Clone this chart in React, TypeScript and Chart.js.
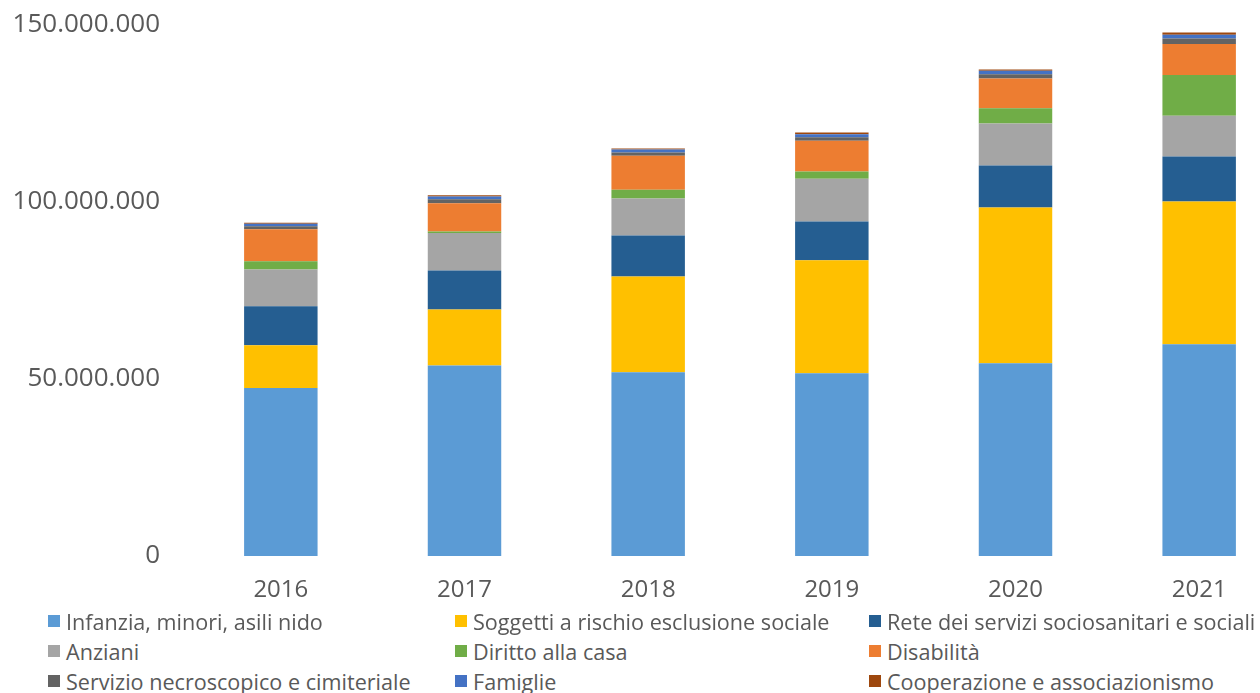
import React, { useEffect, useRef } from "react";
import { Chart, registerables } from "chart.js";

Chart.register(...registerables);

const years = ["2016", "2017", "2018", "2019", "2020", "2021"];

const infanzia = [47400000, 53800000, 51900000, 51600000, 54400000, 59800000];
const soggetti = [12100000, 15800000, 27000000, 31900000, 44000000, 40300000];
const rete = [11000000, 11000000, 11600000, 10900000, 11800000, 12700000];
const anziani = [10400000, 10600000, 10400000, 12100000, 11900000, 11500000];
const dirittoCasa = [2300000, 400000, 2500000, 2000000, 4300000, 11500000];
const disabilita = [9000000, 8000000, 9600000, 8700000, 8400000, 8700000];
const necroscopico = [900000, 1100000, 900000, 1000000, 1200000, 1600000];
const famiglie = [700000, 800000, 850000, 850000, 950000, 1000000];
const cooperazione = [300000, 300000, 300000, 500000, 400000, 650000];

const seriesNames = [
  "Infanzia, minori, asili nido",
  "Soggetti a rischio esclusione sociale",
  "Rete dei servizi sociosanitari e sociali",
  "Anziani",
  "Diritto alla casa",
  "Disabilità",
  "Servizio necroscopico e cimiteriale",
  "Famiglie",
  "Cooperazione e associazionismo",
];
const seriesValues = [infanzia, soggetti, rete, anziani, dirittoCasa, disabilita, necroscopico, famiglie, cooperazione];
const seriesColors = ["#5B9BD5", "#FFC000", "#255E91", "#A5A5A5", "#70AD47", "#ED7D31", "#636363", "#4472C4", "#9E480E"];

const yTicks = [0, 50000000, 100000000, 150000000];

const FONT = "'Open Sans', 'DejaVu Sans', sans-serif";
const TEXT = "#595959";

function fmt(v: number): string {
  return String(Math.round(v)).replace(/\B(?=(\d{3})+(?!\d))/g, ".");
}

const legendCols = [48, 455, 869];
const legendRows = [621, 651, 681];

export default function App() {
  const ref = useRef<HTMLCanvasElement>(null);

  useEffect(() => {
    if (!ref.current) return;
    const chart = new Chart(ref.current, {
      type: "bar",
      data: {
        labels: years,
        datasets: seriesNames.map((n, i) => ({
          label: n,
          data: seriesValues[i],
          backgroundColor: seriesColors[i],
          borderWidth: 0,
          barPercentage: 0.4,
          categoryPercentage: 1,
        })),
      },
      options: {
        animation: false,
        responsive: false,
        maintainAspectRatio: false,
        layout: { padding: { top: 4, left: 0, right: 0, bottom: 0 } },
        plugins: { legend: { display: false }, tooltip: { enabled: false } },
        scales: {
          x: {
            stacked: true,
            grid: { display: false, drawTicks: false },
            border: { display: false },
            ticks: { color: TEXT, font: { family: FONT, size: 24 }, padding: 20 },
            afterFit: (s: any) => {
              s.height = 54;
            },
          },
          y: {
            stacked: true,
            min: 0,
            max: 150000000,
            afterBuildTicks: (s: any) => {
              s.ticks = yTicks.map((v) => ({ value: v }));
            },
            grid: { display: false, drawTicks: false },
            border: { display: false },
            ticks: {
              color: TEXT,
              font: { family: FONT, size: 26 },
              padding: 29,
              callback: (v: any) => fmt(Number(v)),
            },
            afterFit: (s: any) => {
              s.width = 189;
            },
          },
        },
      },
    });
    return () => chart.destroy();
  }, []);

  return (
    <div style={{ position: "absolute", left: 0, top: 0, width: 1260, height: 693, overflow: "hidden", background: "#fff" }}>
      <canvas ref={ref} width={1291} height={630} style={{ position: "absolute", left: 0, top: -20, width: 1291, height: 630 }} />
      {seriesNames.map((n, i) => (
        <div
          key={n}
          style={{
            position: "absolute",
            left: legendCols[i % 3],
            top: legendRows[Math.floor(i / 3)] - 15,
            height: 30,
            display: "flex",
            alignItems: "center",
            fontFamily: FONT,
            fontSize: 21.6,
            color: TEXT,
            whiteSpace: "nowrap",
          }}
        >
          <span style={{ display: "inline-block", width: 12, height: 12, background: seriesColors[i], marginRight: 6 }} />
          <span>{n}</span>
        </div>
      ))}
    </div>
  );
}
